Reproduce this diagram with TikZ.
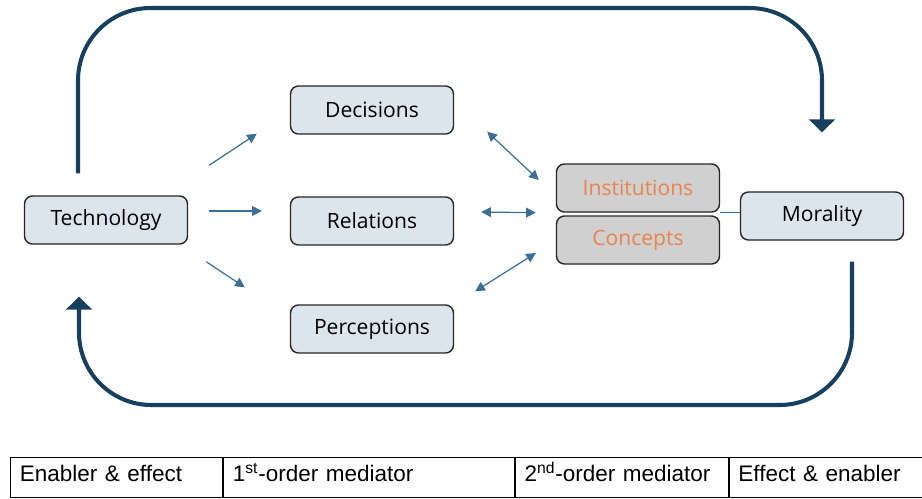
\documentclass[tikz,border=0pt]{standalone}
\usepackage{fontspec}
\setmainfont{Open Sans}
\newfontfamily\tablefont{Liberation Sans}
\usetikzlibrary{arrows.meta}
\definecolor{boxfill}{HTML}{DCE4EC}
\definecolor{greyfill}{HTML}{D0D0D0}
\definecolor{orangetext}{HTML}{E8844C}
\definecolor{loopblue}{HTML}{17405F}
\definecolor{linkblue}{HTML}{3C6F96}

\begin{document}
\begin{tikzpicture}[x=0.02cm,y=-0.02cm,
		box/.style={draw=black!85,line width=0.8pt,rounded corners=4.5pt,fill=boxfill,
			minimum width=3.26cm,minimum height=0.96cm,inner sep=0pt,
			font=\fontsize{12}{14}\selectfont},
		greybox/.style={box,fill=greyfill,text=orangetext},
		thinarrow/.style={linkblue,line width=0.7pt,-{Triangle[length=5.5pt,width=5.5pt]}},
		twoarrow/.style={thinarrow,{Triangle[length=5.5pt,width=5.5pt]}-{Triangle[length=5.5pt,width=5.5pt]}},
		feedback/.style={loopblue,line width=2.3pt,rounded corners=1.45cm,-{Triangle[length=7.4pt,width=14.7pt]}},
		cell/.style={draw=black,line width=0.5pt,anchor=north west,minimum height=0.8cm,
			inner xsep=5.4pt,align=left,text height=9.5pt,text depth=5pt,
			font=\tablefont\fontsize{12.8}{15}\selectfont}]
		\useasboundingbox (0,0) rectangle (922,498);

		% nodes
		\node[box] (tech) at (106,220) {Technology};
		\node[box] (dec) at (372,110) {Decisions};
		\node[box] (rel) at (372,221) {Relations};
		\node[box] (per) at (372,329) {Perceptions};
		\node[greybox] (inst) at (638,188) {Institutions};
		\node[greybox] (con) at (638,240) {Concepts};
		\node[box] (mor) at (822,216) {Morality};

		% first order links
		\draw[thinarrow] ([shift={(21,-30)}]tech.north east) -- ([shift={(-33,-1)}]dec.south west);
		\draw[thinarrow] ([shift={(21,-9)}]tech.east) -- ([shift={(-28,-10)}]rel.west);
		\draw[thinarrow] ([shift={(18,17)}]tech.south east) -- ([shift={(-45,-17)}]per.north west);

		% second order links
		\draw[twoarrow] ([shift={(33,-3)}]dec.south east) -- ([shift={(-17,-8)}]inst.west);
		\draw[twoarrow] ([shift={(27,-9)}]rel.east) -- ([shift={(-20,0)}]inst.south west);
		\draw[twoarrow] ([shift={(21,-13)}]per.north east) -- ([shift={(-20,13)}]con.west);
		\draw[linkblue,line width=0.5pt] (inst.south east) -- (mor.west |- inst.south east);

		% feedback loops
		\coordinate (topline) at (0,8);
		\coordinate (botline) at (0,405);
		\coordinate (a) at ([shift={(-28,-22)}]tech.north);
		\coordinate (b) at ([shift={(0,-59)}]mor.north);
		\coordinate (c) at ([shift={(30,21)}]mor.south);
		\coordinate (d) at ([shift={(-27,52)}]tech.south);
		\draw[feedback] (a) |- (b |- topline) -- (b);
		\draw[feedback] (c) |- (d |- botline) -- (d);

		% legend row
		\node[cell,minimum width=4.24cm,text width=4.24cm-10.8pt] (c1) at (10,457) {Enabler \& effect};
		\node[cell,minimum width=5.82cm,text width=5.82cm-10.8pt] (c2) at (c1.north east) {1\textsuperscript{st}-order mediator};
		\node[cell,minimum width=4.26cm,text width=4.26cm-10.8pt] (c3) at (c2.north east) {2\textsuperscript{nd}-order mediator};
		\node[cell,minimum width=3.90cm,text width=3.90cm-10.8pt] (c4) at (c3.north east) {Effect \& enabler};
	\end{tikzpicture}
\end{document}
